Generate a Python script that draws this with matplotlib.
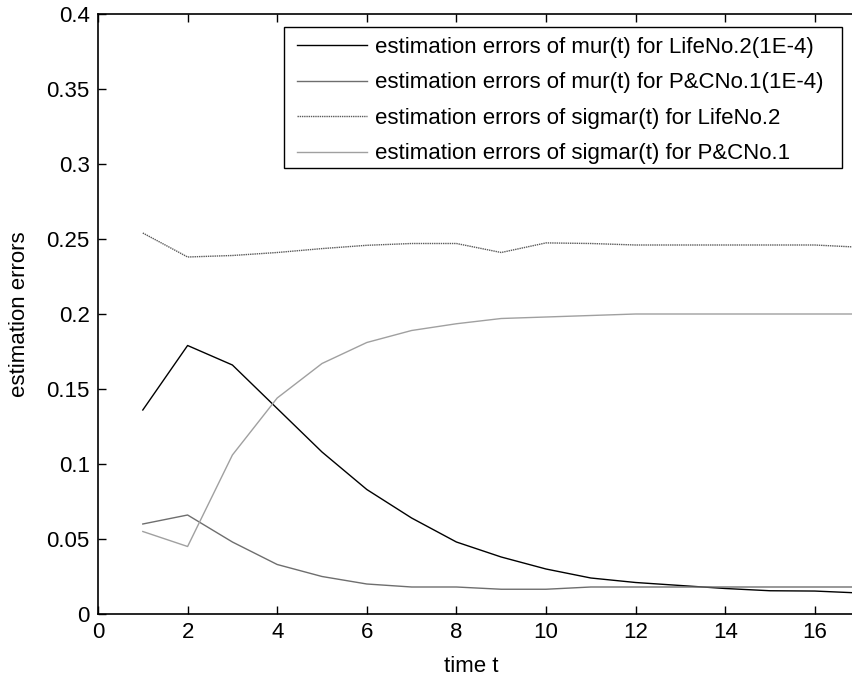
import matplotlib
matplotlib.use("Agg")
import matplotlib.pyplot as plt
from matplotlib.patches import Rectangle

t = list(range(1, 18))
mur_life2 = [0.136, 0.179, 0.166, 0.137, 0.108, 0.083, 0.064, 0.048, 0.038, 0.030,
             0.024, 0.021, 0.019, 0.017, 0.0155, 0.0153, 0.014]
mur_pc1 = [0.060, 0.066, 0.048, 0.033, 0.025, 0.020, 0.018, 0.018, 0.0165, 0.0165,
           0.018, 0.018, 0.018, 0.018, 0.018, 0.018, 0.018]
sig_life2 = [0.254, 0.238, 0.239, 0.241, 0.2436, 0.2458, 0.247, 0.247, 0.241, 0.2474,
             0.247, 0.246, 0.246, 0.246, 0.246, 0.246, 0.2445]
sig_pc1 = [0.055, 0.045, 0.106, 0.144, 0.167, 0.181, 0.189, 0.1935, 0.197, 0.198,
           0.199, 0.200, 0.200, 0.200, 0.200, 0.200, 0.200]

labels = ["estimation errors of mur(t) for LifeNo.2(1E-4)",
          "estimation errors of mur(t) for P&CNo.1(1E-4)",
          "estimation errors of sigmar(t) for LifeNo.2",
          "estimation errors of sigmar(t) for P&CNo.1"]
xticks = [0, 2, 4, 6, 8, 10, 12, 14, 16]
yticks = [0, 0.05, 0.1, 0.15, 0.2, 0.25, 0.3, 0.35, 0.4]
ytick_labels = ['0', '0.05', '0.1', '0.15', '0.2', '0.25', '0.3', '0.35', '0.4']

plt.rcParams['font.family'] = ['Liberation Sans', 'DejaVu Sans']
FS = 16
W, H = 852, 677
AX_L, AX_T, AX_B = 98, 14, 614
AX_W = 761.6
AX_H = AX_B - AX_T
fig = plt.figure(figsize=(W / 100, H / 100), dpi=100)
ax = fig.add_axes([AX_L / W, (H - AX_B) / H, AX_W / W, AX_H / H])

ax.plot(t, mur_life2, color='black', lw=1.0, label=labels[0])
ax.plot(t, mur_pc1, color='#6e6e6e', lw=1.0, label=labels[1])
ax.plot(t, sig_life2, color='#5a5a5a', lw=1.0, ls=(0, (1, 0.6)), label=labels[2])
ax.plot(t, sig_pc1, color='#a0a0a0', lw=1.0, label=labels[3])

ax.set_xlim(0, 17)
ax.set_ylim(0, 0.4)
ax.set_xticks(xticks)
ax.set_xticklabels([str(v) for v in xticks])
ax.set_yticks(yticks)
ax.set_yticklabels(ytick_labels)
ax.tick_params(direction='in', length=6, width=1, top=True, right=True,
               labelsize=FS)
ax.tick_params(axis='x', pad=6)
ax.tick_params(axis='y', pad=6)
for s in ax.spines.values():
    s.set_linewidth(1.2)

ax.set_xlabel('time t', fontsize=FS, va='top')
ax.xaxis.set_label_coords(0.49, -0.070)
ax.set_ylabel('estimation errors', fontsize=FS)
ax.yaxis.set_label_coords(-0.089, 0.5)


def fx(px):
    return (px - AX_L) / AX_W


def fy(py):
    return (AX_B - py) / AX_H


# legend frame
frame = Rectangle((fx(284), fy(168)), fx(842) - fx(284), fy(27) - fy(168),
                  transform=ax.transAxes, facecolor='white', edgecolor='black',
                  lw=1.0, zorder=4, clip_on=False)
ax.add_patch(frame)

leg = ax.legend(loc='upper left', bbox_to_anchor=(fx(297), fy(37)),
                fontsize=FS, frameon=False,
                handlelength=3.15, handletextpad=0.36, borderpad=0.0,
                labelspacing=0.65, borderaxespad=0)
leg.set_zorder(5)

fig.savefig('out.png', dpi=100)
